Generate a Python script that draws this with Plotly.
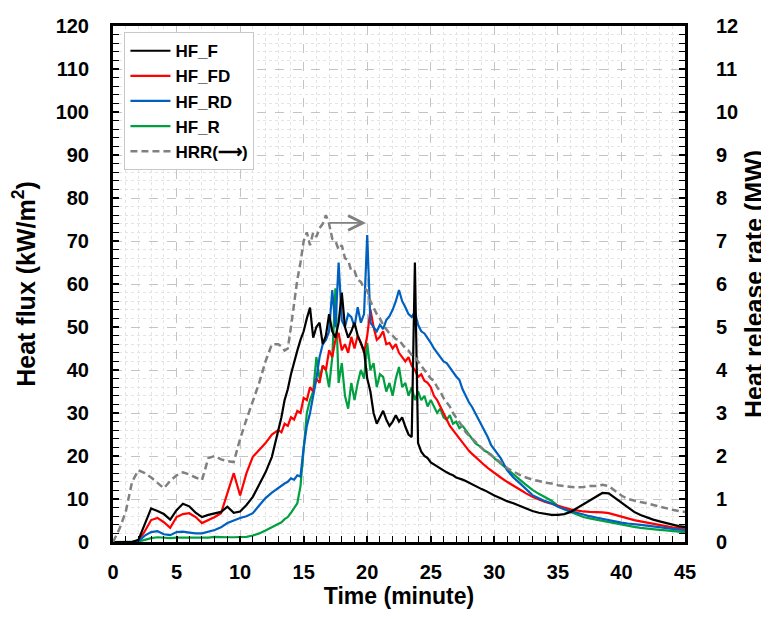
import plotly.graph_objects as go

# Time (minute)
T = [0, 0.5, 1, 1.5, 2, 2.5, 3, 3.5, 4, 4.5, 5, 5.5, 6, 6.5, 7, 7.5, 8, 8.5, 9, 9.5,
     10, 10.5, 11, 11.5, 12, 12.5,
     13, 13.25, 13.5, 13.75, 14, 14.25, 14.5, 14.75, 15, 15.25, 15.5, 15.75,
     16, 16.25, 16.5, 16.75, 17, 17.25, 17.5, 17.75, 18, 18.25, 18.5, 18.75,
     19, 19.25, 19.5, 19.75, 20, 20.25, 20.5, 20.75, 21, 21.25, 21.5, 21.75,
     22, 22.25, 22.5, 22.75, 23, 23.25, 23.5, 23.75, 24, 24.25, 24.5, 24.75,
     25, 25.25, 25.5, 25.75, 26, 26.25, 26.5, 26.75, 27, 27.25, 27.5, 27.75,
     28, 28.25, 28.5, 28.75, 29, 29.25, 29.5, 29.75,
     30, 30.5, 31, 31.5, 32, 32.5, 33, 33.5, 34, 34.5, 35, 35.5, 36, 36.5, 37, 37.5,
     38, 38.5, 39, 39.5, 40, 40.5, 41, 41.5, 42, 42.5, 43, 43.5, 44, 44.5, 45]

# Heat flux (kW/m2)
HF_F = [0, 0, 0, 0, 0.5, 4, 7.8, 7.2, 6.5, 5.2, 7.4, 8.9, 8.3, 6.8, 5.8, 6.3, 6.6, 7.0, 8.2, 6.8,
        7.1, 8.6, 10.5, 13.2, 16.2, 19.8,
        26, 29, 33, 35.5, 39, 42, 44.5, 47, 49, 52, 54.5, 47.5,
        50, 51, 46, 48, 53, 49, 47.5, 51, 58, 50, 47.5, 49,
        51, 48, 46, 44.5, 38, 35, 30, 27.5, 29, 30.5, 28.5, 27,
        28, 29.5, 28, 29, 26.8, 25, 24.4, 65, 23, 21, 20, 19.5,
        18.5, 18, 17.5, 17.2, 16.5, 16.2, 15.8, 15.5, 15, 14.8, 14.5, 14.2,
        13.8, 13.4, 13, 12.6, 12.3, 12, 11.6, 11.2,
        10.8, 10.2, 9.5, 9, 8.4, 7.8, 7.2, 6.8, 6.5, 6.3, 6.3, 6.5, 7.0, 7.9, 8.8, 9.8,
        10.7, 11.4, 11.3, 10.2, 9, 7.9, 7, 6.3, 5.7, 5.2, 4.8, 4.4, 4.0, 3.7, 3.5]

HF_FD = [0, 0, 0, 0, 0.3, 2.5, 5.1, 5.6, 4.6, 3.3, 5.8, 6.5, 6.7, 5.8, 4.4, 5.1, 5.8, 6.7, 11.4, 16,
         10.8, 16, 19.8, 21.4, 23, 25,
         26, 25.5, 27.5, 27, 29, 28.5, 30.5, 30, 33.5, 33, 36, 35,
         38, 37, 41, 40, 44.6, 43, 47, 48.6, 44.6, 46, 44, 47.7,
         45, 48, 46.3, 44, 48, 54, 50, 47, 47.7, 49, 46, 46.3,
         45, 46, 44, 43, 42, 43, 41, 40, 38.4, 39, 37.5, 37,
         36, 34, 33, 31.5, 30, 28.5, 27, 26, 25, 24, 23, 22,
         21.2, 20.5, 19.8, 19, 18.4, 17.8, 17.2, 16.6,
         16, 15, 14, 13, 12.2, 11.3, 10.5, 9.9, 9.3, 8.9, 8.4, 8, 7.6, 7.3, 7.1, 7,
         7, 6.9, 6.7, 6.3, 5.8, 5.4, 5.1, 4.8, 4.5, 4.2, 3.9, 3.6, 3.4, 3.3, 3.2]

HF_RD = [0, 0, 0, 0, 0.2, 1.5, 2.3, 2.5, 1.8, 1.6, 2.3, 2.4, 2.2, 2.0, 2.0, 2.4, 2.8, 3.4, 4.4, 5.0,
         5.6, 6.0, 6.7, 8.5, 10.2, 11.5,
         12.6, 13, 13.6, 14, 14.8, 14.5, 15.5, 15.2, 22, 27, 30, 34,
         38, 43, 46, 47, 49, 58.6, 50, 65, 51.6, 50, 53, 52.3,
         50, 54.6, 51, 53, 71.4, 51, 50, 49, 50.5, 49.5, 51.6, 52.5,
         54, 56, 58.6, 56, 54.6, 53, 52.3, 53.5, 50.5, 49, 48.5, 47.5,
         46.3, 45, 44, 43, 42, 41.6, 40.5, 39.5, 38.5, 37.7, 35.5, 34,
         32.5, 31.4, 30, 28.5, 27, 25.8, 24.3, 22.5,
         21.5, 19.5, 16.7, 15, 13.7, 12.2, 10.9, 10.2, 9.5, 9, 8.2, 7.6, 7.2, 6.8, 6.3, 6.0,
         5.7, 5.4, 5.0, 4.8, 4.5, 4.3, 4.2, 4.0, 3.8, 3.6, 3.4, 3.3, 3.1, 2.9, 2.8]

HF_R = [0, 0, 0, 0, 0.1, 0.5, 0.9, 1.1, 1.0, 0.9, 1.0, 1.0, 0.9, 0.9, 1.0, 1.0, 1.2, 1.1, 1.1, 1.1,
        1.2, 1.2, 1.5, 2.0, 2.7, 3.4,
        4.2, 4.6, 5.3, 5.8, 6.8, 7.8, 9, 13, 22, 30, 33, 35,
        43, 38, 41, 40, 36, 43, 59, 37, 41.6, 34, 31, 37,
        33, 37, 40, 38, 46.3, 40, 41.6, 36, 39, 38.4, 35, 37,
        34, 38, 40.7, 36, 37, 34, 36, 33, 35, 33, 34, 31.5,
        33, 31.4, 30, 31, 29, 28.4, 29.5, 27.5, 28, 26.5, 27, 26,
        25, 24, 23, 22.5, 21.8, 21.2, 20.8, 20.3,
        19.5, 18.2, 17, 15.8, 14.5, 13.3, 12.1, 11.2, 10.3, 9.6, 8.4, 7.6, 7.0, 6.4, 5.8, 5.5,
        5.2, 4.9, 4.6, 4.3, 4.0, 3.7, 3.5, 3.3, 3.1, 3.0, 2.8, 2.7, 2.5, 2.4, 2.3]

# Heat release rate (MW)
HRR = [0, 0.3, 0.7, 1.4, 1.67, 1.6, 1.5, 1.38, 1.25, 1.42, 1.55, 1.62, 1.57, 1.5, 1.44, 1.95, 2.0, 1.92, 1.88, 1.86,
       2.4, 2.85, 3.25, 3.7, 4.2, 4.6,
       4.6, 4.55, 4.45, 4.5, 5.0, 5.6, 6.1, 6.5, 7.0, 7.2, 6.9, 7.2,
       7.1, 7.3, 7.4, 7.6, 7.4, 7.05, 7.0, 6.8, 6.9, 6.6, 6.55, 6.3,
       6.3, 6.1, 6.05, 5.9, 5.85, 5.6, 5.45, 5.3, 5.2, 5.05, 4.95, 4.85,
       4.8, 4.72, 4.7, 4.6, 4.5, 4.45, 4.35, 4.3, 4.2, 4.1, 4.0, 3.9,
       3.8, 3.75, 3.6, 3.5, 3.35, 3.25, 3.15, 3.0, 2.9, 2.78, 2.68, 2.55,
       2.48, 2.4, 2.32, 2.25, 2.18, 2.12, 2.07, 2.02,
       1.97, 1.85, 1.72, 1.63, 1.56, 1.5, 1.45, 1.42, 1.38, 1.36, 1.32, 1.3, 1.28, 1.27, 1.28, 1.3,
       1.3, 1.33, 1.3, 1.18, 1.08, 1.0, 0.96, 0.93, 0.9, 0.86, 0.82, 0.78, 0.75, 0.72, 0.7]

# Arrow marking HRR -> right axis
ARROW_X = [16.9, 19.9]
ARROW_Y = 74.2

FONT = "Liberation Sans, Arial, sans-serif"

fig = go.Figure()
fig.add_trace(go.Scatter(x=T, y=HRR, name="HRR(⟶)", yaxis="y2", mode="lines",
                         line=dict(color="#808080", width=2.5, dash="7px,4px"), legendrank=5))
fig.add_trace(go.Scatter(x=T, y=HF_R, name="HF_R", mode="lines",
                         line=dict(color="#00a040", width=2.2), legendrank=4))
fig.add_trace(go.Scatter(x=T, y=HF_FD, name="HF_FD", mode="lines",
                         line=dict(color="#ff0000", width=2.2), legendrank=2))
fig.add_trace(go.Scatter(x=T, y=HF_RD, name="HF_RD", mode="lines",
                         line=dict(color="#0060c0", width=2.2), legendrank=3))
fig.add_trace(go.Scatter(x=T, y=HF_F, name="HF_F", mode="lines",
                         line=dict(color="#000000", width=2.2), legendrank=1))

fig.add_annotation(x=ARROW_X[1], y=ARROW_Y, ax=ARROW_X[0], ay=ARROW_Y,
                   xref="x", yref="y", axref="x", ayref="y", text="",
                   showarrow=True, arrowhead=5, arrowsize=1.6, arrowwidth=1.8,
                   arrowcolor="#808080")

grid_major = "#c4c4c4"
grid_minor = "#e4e4e4"

# The page body adds an 8px offset, so the figure is sized 761x611
fig.update_layout(
    width=761, height=611,
    margin=dict(l=105, r=84, t=18, b=77, autoexpand=False),
    paper_bgcolor="white", plot_bgcolor="white",
    font=dict(family=FONT, size=20, color="black"),
    showlegend=True,
    legend=dict(x=0.02, y=0.988, xanchor="left", yanchor="top",
                bgcolor="white", bordercolor="#c8c8c8", borderwidth=1,
                font=dict(family=FONT, size=17, color="black"),
                itemwidth=40, tracegroupgap=0),
    xaxis=dict(range=[0, 45], dtick=5, tick0=0, automargin=False,
               title=dict(text="<b>Time (minute)</b>", font=dict(size=23), standoff=5),
               tickfont=dict(size=20, family=FONT),
               ticks="inside", ticklen=6, tickwidth=1.5, tickcolor="black",
               showline=True, linecolor="black", linewidth=3, mirror=True,
               showgrid=True, gridcolor=grid_major, griddash="dash", gridwidth=1,
               zeroline=False, ticklabelstandoff=10,
               minor=dict(dtick=1, ticks="inside", ticklen=6, tickwidth=1.2, tickcolor="black",
                          showgrid=True, gridcolor=grid_minor, griddash="dot", gridwidth=1)),
    yaxis=dict(range=[0, 120], dtick=10, tick0=0, automargin=False,
               title=dict(text="<b>Heat flux (kW/m<sup>2</sup>)</b>", font=dict(size=25), standoff=14),
               tickfont=dict(size=20, family=FONT),
               ticks="inside", ticklen=6, tickwidth=1.5, tickcolor="black",
               showline=True, linecolor="black", linewidth=3, mirror=True,
               showgrid=True, gridcolor=grid_major, griddash="dash", gridwidth=1,
               zeroline=False, ticklabelstandoff=17,
               minor=dict(dtick=2, ticks="inside", ticklen=6, tickwidth=1.2, tickcolor="black",
                          showgrid=True, gridcolor=grid_minor, griddash="dot", gridwidth=1)),
    yaxis2=dict(range=[0, 12], dtick=1, tick0=0, overlaying="y", side="right", automargin=False,
                title=dict(text="<b>Heat release rate (MW)</b>", font=dict(size=25), standoff=9),
                tickfont=dict(size=20, family=FONT),
                ticks="inside", ticklen=6, tickwidth=1.5, tickcolor="black",
                showline=True, linecolor="black", linewidth=3,
                showgrid=False, zeroline=False, ticklabelstandoff=24,
                minor=dict(dtick=0.2, ticks="inside", ticklen=6, tickwidth=1.2, tickcolor="black",
                           showgrid=False)),
)

# bold tick labels
fig.update_xaxes(tickprefix="<b>", ticksuffix="</b>")
fig.update_yaxes(tickprefix="<b>", ticksuffix="</b>")
for tr in fig.data:
    tr.name = "<b>" + tr.name + "</b>"

fig.write_html("out.html")
